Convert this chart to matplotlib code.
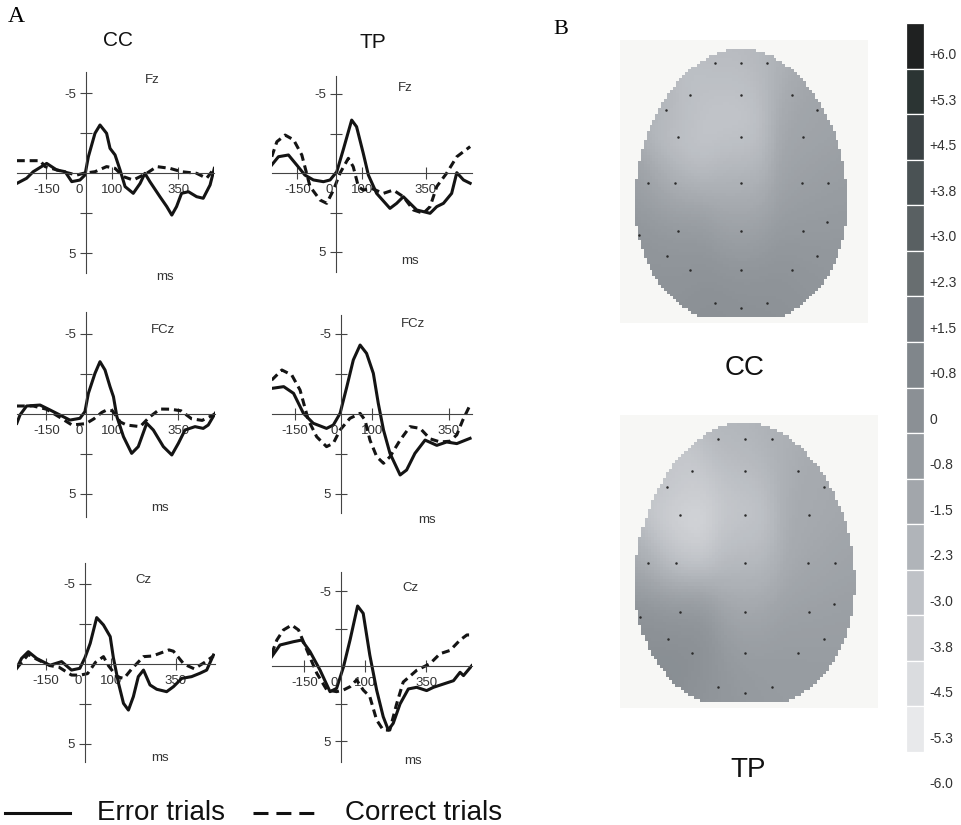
import numpy as np
import matplotlib
matplotlib.use('Agg')
import matplotlib.pyplot as plt
from matplotlib.colors import LinearSegmentedColormap
from matplotlib.lines import Line2D

plt.rcParams['font.family'] = ['Liberation Sans', 'DejaVu Sans']

W, H = 962, 825

# ---- ERP waveforms: time (ms) and amplitude (uV), negative is drawn upward ----
cc_fz_err_t = [-262, -225, -200, -149, -111, -79, -54, -23, -4, 9, 34, 53, 78, 91, 110, 129, 148, 179,
               205, 223, 242, 280, 306, 325, 343, 362, 388, 419, 444, 470, 486]
cc_fz_err_v = [0.65, 0.33, -0.08, -0.6, -0.19, -0.08, 0.54, 0.44, 0.13, -1.02, -2.48, -3.0, -2.48, -1.54,
               -1.13, -0.19, 0.85, 1.27, 0.65, 0.02, 0.54, 1.48, 2.1, 2.63, 2.1, 1.27, 1.17, 1.48, 1.58, 0.75, -0.29]
cc_fz_cor_t = [-262, -174, -155, -86, -35, -10, 34, 78, 110, 142, 179, 230, 268, 318, 362, 419, 457, 486]
cc_fz_cor_v = [-0.77, -0.77, -0.4, -0.08, 0.13, 0.02, -0.08, -0.4, -0.29, 0.23, 0.44, 0.02, -0.4, -0.29,
               -0.08, 0.02, 0.33, -0.29]

cc_fcz_err_t = [-262, -250, -225, -174, -136, -86, -61, -23, -4, 9, 34, 53, 72, 91, 104, 117, 142, 173,
                198, 230, 255, 293, 325, 350, 375, 413, 444, 463, 489]
cc_fcz_err_v = [0.58, 0.06, -0.5, -0.56, -0.25, 0.17, 0.38, 0.27, -0.15, -1.29, -2.54, -3.27, -2.75, -1.71,
                -1.08, 0.17, 1.42, 2.46, 2.04, 0.58, 1.0, 2.04, 2.56, 1.83, 1.0, 0.79, 0.9, 0.69, -0.04]
cc_fcz_cor_t = [-262, -200, -150, -100, -53, 0, 30, 60, 78, 100, 130, 154, 205, 240, 280, 320, 360, 400, 440, 489]
cc_fcz_cor_v = [-0.5, -0.5, -0.3, 0.2, 0.69, 0.6, 0.3, -0.1, -0.25, -0.2, 0.5, 0.69, 0.79, 0.2, -0.31,
                -0.3, -0.2, 0.3, 0.4, 0.0]

cc_cz_err_t = [-263, -244, -218, -186, -135, -90, -52, -20, 0, 20, 45, 71, 97, 109, 129, 148, 167, 186,
               205, 225, 250, 276, 314, 340, 372, 410, 442, 468, 494]
cc_cz_err_v = [0.27, -0.35, -0.77, -0.35, 0.08, -0.15, 0.38, 0.27, -0.4, -1.29, -2.9, -2.44, -1.71, -0.4,
               1.21, 2.46, 2.88, 2.04, 0.79, 0.38, 1.31, 1.58, 1.73, 1.42, 0.9, 0.79, 0.58, 0.38, -0.56]
cc_cz_cor_t = [-263, -218, -186, -135, -100, -52, -20, 10, 40, 71, 90, 123, 150, 180, 225, 260, 323, 340,
               380, 420, 460, 494]
cc_cz_cor_v = [0.27, -0.6, -0.3, 0.1, 0.2, 0.69, 0.7, 0.6, -0.1, -0.46, 0.1, 0.8, 0.9, 0.3, -0.46, -0.5,
               -0.88, -0.8, 0.0, 0.3, -0.1, -0.5]

tp_fz_err_t = [-250, -224, -185, -153, -121, -88, -49, -23, 3, 28, 61, 80, 106, 126, 158, 210, 236, 262,
               288, 314, 366, 392, 418, 450, 470, 496, 522]
tp_fz_err_v = [-0.51, -1.03, -1.14, -0.51, 0.13, 0.44, 0.55, 0.44, -0.08, -1.46, -3.35, -2.93, -1.25, 0.13,
               1.29, 2.24, 1.92, 1.5, 1.92, 2.34, 2.55, 2.13, 1.92, 1.29, -0.02, 0.44, 0.65]
tp_fz_cor_t = [-250, -230, -198, -165, -133, -101, -62, -36, -10, 16, 48, 67, 87, 106, 138, 184, 223, 262,
               301, 340, 366, 392, 431, 470, 522]
tp_fz_cor_v = [-1.03, -1.98, -2.4, -2.1, -1.14, 0.86, 1.71, 1.92, 1.08, 0.0, -0.93, -0.4, 0.86, 1.08, 0.97,
               1.29, 1.08, 1.5, 2.34, 2.55, 2.13, 0.86, 0.0, -1.03, -1.67]

tp_fcz_err_t = [-225, -186, -154, -122, -90, -47, -25, -3, 19, 40, 62, 83, 105, 121, 138, 159, 192, 213,
                240, 273, 311, 343, 376, 419]
tp_fcz_err_v = [-1.6, -1.71, -1.29, -0.04, 0.58, 0.9, 0.69, -0.04, -1.71, -3.38, -4.31, -3.79, -2.54, -0.67,
                1.0, 2.46, 3.81, 3.5, 2.46, 1.63, 1.96, 1.75, 1.85, 1.52]
tp_fcz_cor_t = [-225, -192, -160, -133, -106, -79, -47, -25, -3, 29, 62, 78, 94, 116, 138, 159, 192, 224,
                257, 289, 322, 354, 376, 395, 419]
tp_fcz_cor_v = [-2.12, -2.75, -2.44, -1.5, 0.38, 1.42, 2.04, 1.83, 1.0, 0.27, -0.04, 0.38, 1.63, 2.67, 3.08,
                2.67, 1.63, 0.79, 0.9, 1.55, 1.75, 1.7, 1.3, 0.4, -0.56]

tp_cz_err_t = [-284, -250, -195, -161, -127, -86, -45, -18, 10, 37, 68, 91, 118, 146, 173, 194, 214, 242,
               276, 310, 351, 379, 420, 461, 488, 502, 536]
tp_cz_err_v = [-0.62, -1.4, -1.62, -1.73, -0.96, 0.27, 1.71, 1.49, 0.07, -1.73, -4.0, -3.51, -0.73, 1.6,
               3.38, 4.27, 3.82, 2.53, 1.53, 1.42, 1.64, 1.42, 1.2, 0.98, 0.42, 0.64, -0.02]
tp_cz_cor_t = [-284, -263, -236, -202, -174, -140, -99, -58, -18, 10, 37, 64, 91, 118, 146, 173, 200, 228,
               255, 310, 365, 406, 447, 488, 516, 536]
tp_cz_cor_v = [-0.82, -1.73, -2.4, -2.73, -2.4, -1.07, 0.49, 1.6, 1.71, 1.6, 1.38, 0.93, 1.6, 2.04, 3.6,
               4.27, 4.27, 2.53, 1.07, 0.29, -0.16, -0.82, -1.04, -1.73, -2.07, -2.07]

# ---- scalp maps: electrode positions (head units) and amplitudes (uV) ----
elec_x = [-0.24, 0, 0.24, -0.48, 0, 0.48, -0.70, 0.71, -0.59, 0, 0.58,
          -0.87, -0.62, 0, 0.57, 0.81, -0.95, 0.80, -0.59, 0, 0.58,
          -0.69, 0.71, -0.48, 0, 0.48, -0.24, 0.24, 0]
elec_y = [0.88, 0.88, 0.88, 0.65, 0.65, 0.65, 0.54, 0.54, 0.34, 0.34, 0.34,
          0, 0, 0, 0, 0, -0.38, -0.29, -0.35, -0.35, -0.35,
          -0.54, -0.54, -0.64, -0.64, -0.64, -0.88, -0.88, -0.92]
cc_map_uv = [-2.9, -3.1, -2.5, -3.7, -3.8, -2.1, -2.0, -1.6, -3.9, -3.4, -1.8,
             -1.3, -2.7, -2.5, -1.6, -1.3, -0.7, -1.0, -1.4, -1.7, -1.2,
             -0.5, -0.8, -0.6, -0.9, -0.6, -0.3, -0.5, -0.4]
tp_map_uv = [-2.6, -2.8, -2.3, -4.3, -3.4, -2.3, -2.8, -1.9, -5.2, -3.6, -2.1,
             -2.0, -3.8, -2.9, -2.1, -1.7, -0.4, -1.4, -1.2, -2.0, -1.7,
             -0.1, -1.2, -0.2, -1.4, -1.2, -0.7, -1.2, -1.0]

# ---- colour scale ----
scale_bounds = [6.0, 5.25, 4.5, 3.75, 3.0, 2.25, 1.5, 0.75, 0.0, -0.75, -1.5, -2.25, -3.0, -3.75, -4.5, -5.25, -6.0]
scale_labels = ['+6.0', '+5.3', '+4.5', '+3.8', '+3.0', '+2.3', '+1.5', '+0.8', '0',
                '-0.8', '-1.5', '-2.3', '-3.0', '-3.8', '-4.5', '-5.3', '-6.0']
scale_colors = ['#1f2121', '#2b3433', '#3b4244', '#4a5254', '#596062', '#686e70', '#747a7f', '#80868b',
                '#8b9095', '#969ba0', '#a2a6ab', '#b0b4b9', '#bfc2c7', '#ccced2', '#dadcdf', '#e8e9eb']


def box(l, t, r, b):
    return [l / W, 1 - b / H, (r - l) / W, (b - t) / H]


def fx(px):
    return px / W


def fy(py):
    return 1 - py / H


fig = plt.figure(figsize=(W / 100, H / 100), dpi=100)
fig.patch.set_facecolor('white')

# panel geometry in pixels: zero point, px per ms, px per uV, horizontal extent, axis extent
panels = [
    dict(err=(cc_fz_err_t, cc_fz_err_v), cor=(cc_fz_cor_t, cc_fz_cor_v), name='Fz',
         zero=(86, 173), s=0.264, su=16, lr=(17, 214), tb=(72, 273), name_at=(250, -5.8), ms_at=(299, 6.5)),
    dict(err=(cc_fcz_err_t, cc_fcz_err_v), cor=(cc_fcz_cor_t, cc_fcz_cor_v), name='FCz',
         zero=(86, 414), s=0.264, su=16, lr=(17, 215), tb=(312, 517), name_at=(292, -5.25), ms_at=(280, 5.9)),
    dict(err=(cc_cz_err_t, cc_cz_err_v), cor=(cc_cz_cor_t, cc_cz_cor_v), name='Cz',
         zero=(85, 664), s=0.26, su=16, lr=(17, 215), tb=(563, 762), name_at=(223, -5.25), ms_at=(288, 5.9)),
    dict(err=(tp_fz_err_t, tp_fz_err_v), cor=(tp_fz_cor_t, tp_fz_cor_v), name='Fz',
         zero=(336, 173), s=0.257, su=15.8, lr=(272, 472), tb=(76, 272), name_at=(268, -5.4), ms_at=(288, 5.6)),
    dict(err=(tp_fcz_err_t, tp_fcz_err_v), cor=(tp_fcz_cor_t, tp_fcz_cor_v), name='FCz',
         zero=(341, 414), s=0.308, su=16, lr=(272, 472), tb=(315, 513), name_at=(234, -5.6), ms_at=(279, 6.6)),
    dict(err=(tp_cz_err_t, tp_cz_err_v), cor=(tp_cz_cor_t, tp_cz_cor_v), name='Cz',
         zero=(341, 666), s=0.244, su=15, lr=(272, 472), tb=(572, 762), name_at=(283, -5.2), ms_at=(295, 6.3)),
]

axis_col = '#444444'
for p in panels:
    x0, y0 = p['zero']
    l, r = p['lr']
    t, b = p['tb']
    ax = fig.add_axes(box(l, t - 12, r, b + 12))
    ax.patch.set_alpha(0)
    ax.set_xlim((l - x0) / p['s'], (r - x0) / p['s'])
    ax.set_ylim((b + 12 - y0) / p['su'], (t - 12 - y0) / p['su'])
    for side in ['top', 'right']:
        ax.spines[side].set_visible(False)
    ax.spines['left'].set_position(('data', 0))
    ax.spines['bottom'].set_position(('data', 0))
    ax.spines['left'].set_bounds((t - y0) / p['su'], (b - y0) / p['su'])
    for side in ['left', 'bottom']:
        ax.spines[side].set_color(axis_col)
        ax.spines[side].set_linewidth(0.8)
    ax.set_yticks([-5, -2.5, 2.5, 5])
    ax.set_yticklabels(['-5', '', '', '5'])
    ax.set_xticks([-150, 100, 350])
    ax.set_xticklabels(['-150', '100', '350'])
    ax.tick_params(direction='inout', length=8.5, width=0.8, color=axis_col,
                   labelcolor='#333333', labelsize=9.5)
    ax.tick_params(axis='x', pad=4)
    ax.tick_params(axis='y', pad=3)
    ax.annotate('0', (0, 0), xytext=(-7, -17), textcoords='offset pixels',
                ha='center', va='center', fontsize=9.5, color='#333333')

    ax.plot(*p['cor'], color='#141414', lw=2.2, dashes=(2.6, 1.6), dash_capstyle='butt')
    ax.plot(*p['err'], color='#141414', lw=2.2, solid_joinstyle='round')

    ax.text(*p['name_at'], p['name'], ha='center', va='center', fontsize=9.5, color='#333333')
    ax.text(*p['ms_at'], 'ms', ha='center', va='center', fontsize=9.5, color='#333333')

fig.text(fx(16), fy(17), 'A', family='Liberation Serif', fontsize=17, ha='center', va='center')
fig.text(fx(561), fy(30), 'B', family='Liberation Serif', fontsize=16, ha='center', va='center')
fig.text(fx(118), fy(40), 'CC', fontsize=15, ha='center', va='center', color='#111111')
fig.text(fx(373), fy(43), 'TP', fontsize=15, ha='center', va='center', color='#111111')

# ---- scalp maps ----
nodes = [(0.0, scale_colors[-1])]
for i, c in enumerate(scale_colors[::-1]):
    nodes.append(((0.375 + 0.75 * i) / 12.0, c))
nodes.append((1.0, scale_colors[0]))
cmap = LinearSegmentedColormap.from_list('scalp', nodes)

ex = np.array(elec_x)
ey = np.array(elec_y)
egg_yc, egg_b, egg_k = -0.03, 1.03, 0.11

maps = [
    dict(vals=cc_map_uv, c=(741, 183), rx=107, ry=136, bg=(620, 40, 868, 323), label='CC', lab_at=(745, 368)),
    dict(vals=tp_map_uv, c=(745, 563), rx=111, ry=141, bg=(620, 415, 878, 708), label='TP', lab_at=(748, 770)),
]
for m in maps:
    l, t, r, b = m['bg']
    cx, cy = m['c']
    xl = ((l - cx) / m['rx'], (r - cx) / m['rx'])
    yl = ((cy - b) / m['ry'], (cy - t) / m['ry'])
    ax = fig.add_axes(box(l, t, r, b))
    ax.set_facecolor('#f7f7f5')
    for s in ax.spines.values():
        s.set_visible(False)
    ax.set_xticks([])
    ax.set_yticks([])
    gx = np.linspace(xl[0], xl[1], 84)
    gy = np.linspace(yl[0], yl[1], 96)
    X, Y = np.meshgrid(gx, gy)
    d2 = (X[..., None] - ex) ** 2 + (Y[..., None] - ey) ** 2
    wgt = np.exp(-d2 / (2 * 0.2 ** 2))
    Z = (wgt * np.array(m['vals'])).sum(-1) / wgt.sum(-1)
    u = (Y - egg_yc) / egg_b
    half = np.sqrt(np.clip(1 - u ** 2, 0, None)) * (1 - egg_k * u)
    Z = np.where((np.abs(X) <= half) & (Y >= -1.0), Z, np.nan)
    ax.imshow(Z, extent=(xl[0], xl[1], yl[0], yl[1]), origin='lower', cmap=cmap,
              vmin=-6, vmax=6, interpolation='nearest', aspect='auto')
    ax.plot(ex, ey, 'o', ms=1.8, color='#2a2a2a', mec='none')
    ax.set_xlim(*xl)
    ax.set_ylim(*yl)
    fig.text(fx(m['lab_at'][0]), fy(m['lab_at'][1]), m['label'], fontsize=20,
             ha='center', va='center', color='#111111')

# ---- colour scale ----
cax = fig.add_axes(box(906, 23, 924, 752))
cax.set_xlim(-0.5, 0.5)
cax.set_ylim(-6, 6)
lows = scale_bounds[1:]
cax.bar([0] * len(lows), [0.75] * len(lows), bottom=lows, width=1, color=scale_colors,
        edgecolor='white', linewidth=0.9)
cax.axis('off')
for v, s in zip(scale_bounds, scale_labels):
    cax.text(1.28, v - 0.53, s, transform=cax.get_yaxis_transform(), ha='left', va='center',
             fontsize=10, color='#333333', clip_on=False)

# ---- legend ----
fig.add_artist(Line2D([fx(5), fx(70)], [fy(813), fy(813)], color='#111111', lw=2.2,
                      transform=fig.transFigure))
fig.add_artist(Line2D([fx(253), fx(317)], [fy(813), fy(813)], color='#111111', lw=2.2,
                      dashes=(4.9, 2.6), dash_capstyle='butt', transform=fig.transFigure))
fig.text(fx(97), fy(813), 'Error trials', fontsize=20, ha='left', va='center', color='#111111')
fig.text(fx(345), fy(813), 'Correct trials', fontsize=20, ha='left', va='center', color='#111111')

fig.savefig('out.png', dpi=100)
